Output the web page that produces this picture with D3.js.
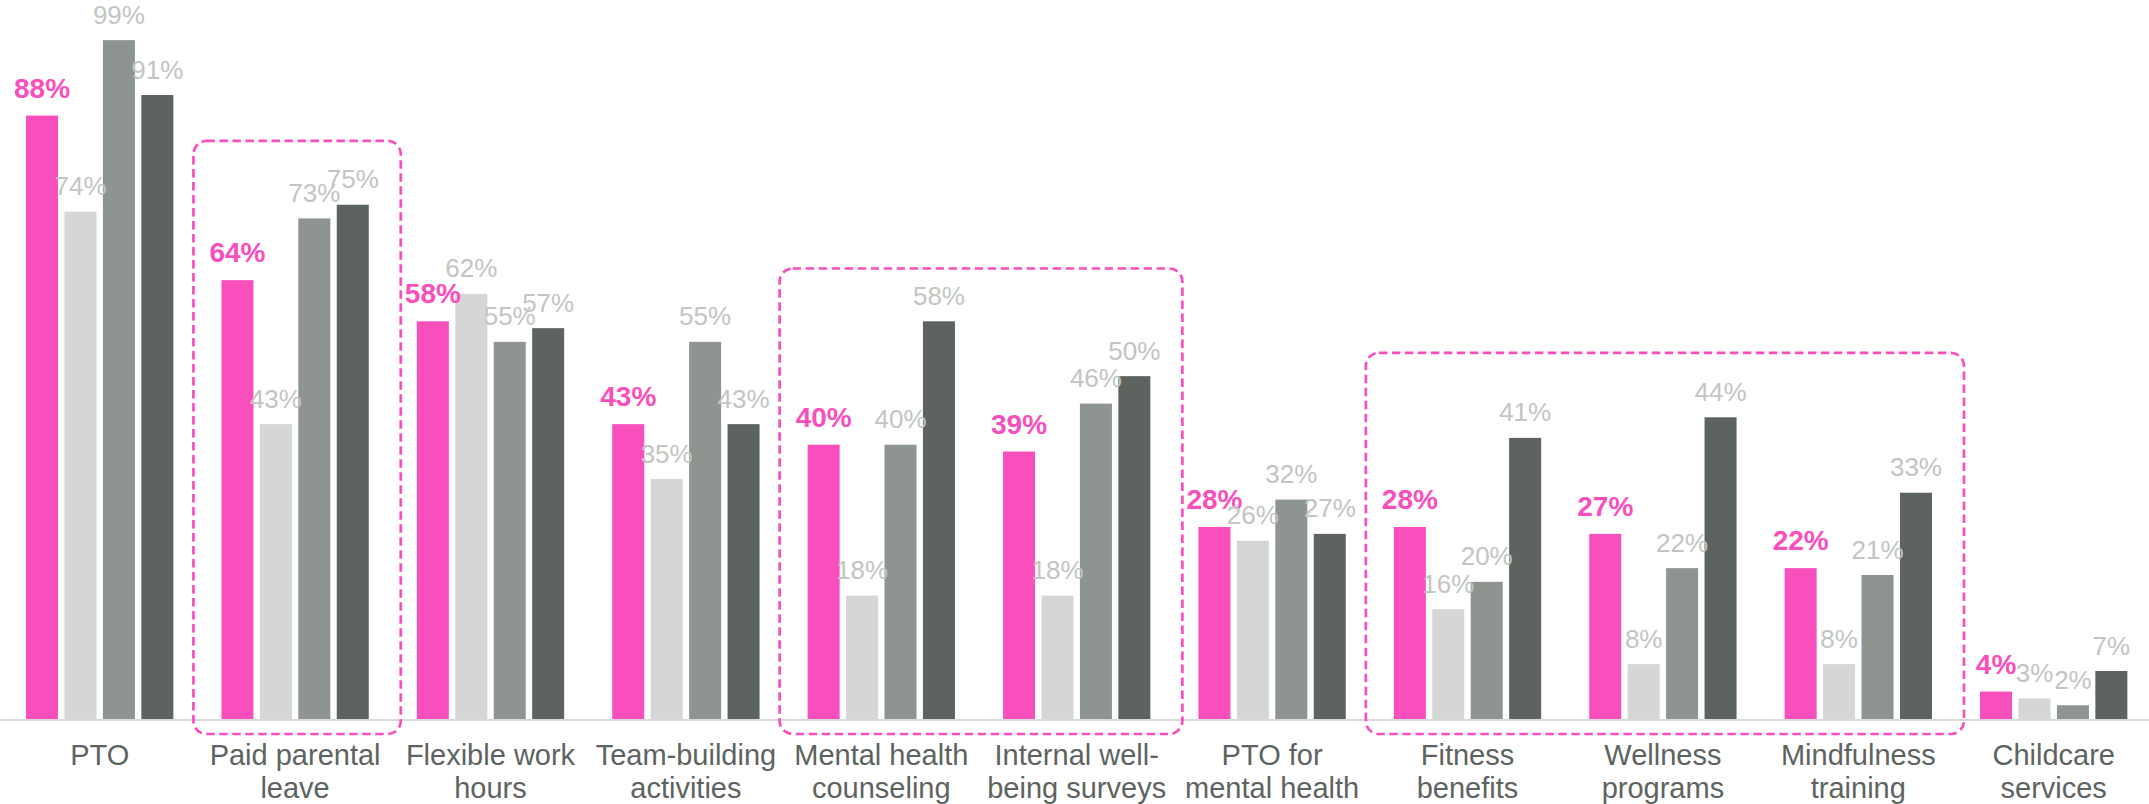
<!DOCTYPE html>
<html>
<head>
<meta charset="utf-8">
<script src="https://cdn.jsdelivr.net/npm/d3@7"></script>
<style>
  html, body { margin: 0; padding: 0; background: #fff; }
  svg { display: block; font-family: "Liberation Sans", Arial, sans-serif; }
</style>
</head>
<body>
<div id="chart_container"></div>
<script>
// data section
const categories = [
    'PTO', 'Paid parental\nleave', 'Flexible work\nhours', 'Team-building\nactivities',
    'Mental health\ncounseling', 'Internal well-\nbeing surveys', 'PTO for\nmental health',
    'Fitness\nbenefits', 'Wellness\nprograms', 'Mindfulness\ntraining', 'Childcare\nservices'
];
const series = ['s1', 's2', 's3', 's4'];
const s1Values = [88, 64, 58, 43, 40, 39, 28, 28, 27, 22, 4];
const s2Values = [74, 43, 62, 35, 18, 18, 26, 16, 8, 8, 3];
const s3Values = [99, 73, 55, 55, 40, 46, 32, 20, 22, 21, 2];
const s4Values = [91, 75, 57, 43, 58, 50, 27, 41, 44, 33, 7];
// highlighted groups: [first category index, last category index, top of box in %]
const highlights = [[1, 1, 84.3], [4, 5, 65.7], [7, 9, 53.4]];

const valuesBySeries = [s1Values, s2Values, s3Values, s4Values];
const rows = categories.map((c, i) => ({
    category: c,
    values: series.map((s, j) => ({key: s, value: valuesBySeries[j][i]}))
}));

const width = 2149;
const height = 804;
const baseY = 719;

const pink = '#f94fbd';
const colors = d3.scaleOrdinal()
      .domain(series)
      .range([pink, '#d4d7d6', '#8e9490', '#5d645f']);

// scales
const x0 = d3.scaleBand()
      .domain(categories)
      .range([2, 2151.4])
      .paddingInner(0.246)
      .paddingOuter(0.123);

const x1 = d3.scaleBand()
      .domain(series)
      .range([0, x0.bandwidth()])
      .paddingInner(0.167);

const y = d3.scaleLinear()
      .domain([0, 100])
      .range([baseY, baseY - 685.7]);

const svg = d3.select('#chart_container')
      .append('svg')
      .attr('width', width)
      .attr('height', height)
      .attr('viewBox', [0, 0, width, height]);

// baseline
svg.append('line')
    .attr('x1', 0)
    .attr('x2', width)
    .attr('y1', baseY + 1)
    .attr('y2', baseY + 1)
    .attr('stroke', '#d9d9d9')
    .attr('stroke-width', 2);

// dashed highlight boxes
const padLeft = 28;
const padRight = 32;
svg.append('g')
    .selectAll('rect')
    .data(highlights)
    .enter()
    .append('rect')
    .attr('x', d => x0(categories[d[0]]) - padLeft)
    .attr('y', d => y(d[2]))
    .attr('width', d => x0(categories[d[1]]) + x0.bandwidth() - x0(categories[d[0]]) + padLeft + padRight)
    .attr('height', d => baseY + 15 - y(d[2]))
    .attr('rx', 13)
    .attr('fill', 'none')
    .attr('stroke', pink)
    .attr('stroke-width', 2.7)
    .attr('stroke-dasharray', '8.5 4.5');

const groups = svg.append('g')
      .selectAll('g')
      .data(rows)
      .enter()
      .append('g')
      .attr('transform', d => `translate(${x0(d.category)},0)`);

groups.selectAll('rect')
    .data(d => d.values)
    .enter()
    .append('rect')
    .attr('x', d => x1(d.key))
    .attr('y', d => y(d.value))
    .attr('width', x1.bandwidth())
    .attr('height', d => baseY - y(d.value))
    .attr('fill', d => colors(d.key));

// value labels
groups.selectAll('text')
    .data(d => d.values)
    .enter()
    .append('text')
    .attr('x', d => x1(d.key) + x1.bandwidth() / 2)
    .attr('y', d => y(d.value) - (d.key === 's1' ? 18 : 16.5))
    .attr('text-anchor', 'middle')
    .attr('font-size', d => d.key === 's1' ? 28 : 26)
    .attr('font-weight', d => d.key === 's1' ? 'bold' : 'normal')
    .attr('fill', d => d.key === 's1' ? pink : '#c2c5c2')
    .text(d => d.value + '%');

// category labels
const labels = svg.append('g')
      .selectAll('text')
      .data(categories)
      .enter()
      .append('text')
      .attr('x', d => x0(d) + x0.bandwidth() / 2)
      .attr('y', 764.5)
      .attr('text-anchor', 'middle')
      .attr('font-size', 29)
      .attr('fill', '#5d645f');

labels.selectAll('tspan')
    .data(d => d.split('\n'))
    .enter()
    .append('tspan')
    .attr('x', function() { return this.parentNode.getAttribute('x'); })
    .attr('dy', (d, i) => i === 0 ? 0 : 33.4)
    .text(d => d);
</script>
</body>
</html>
